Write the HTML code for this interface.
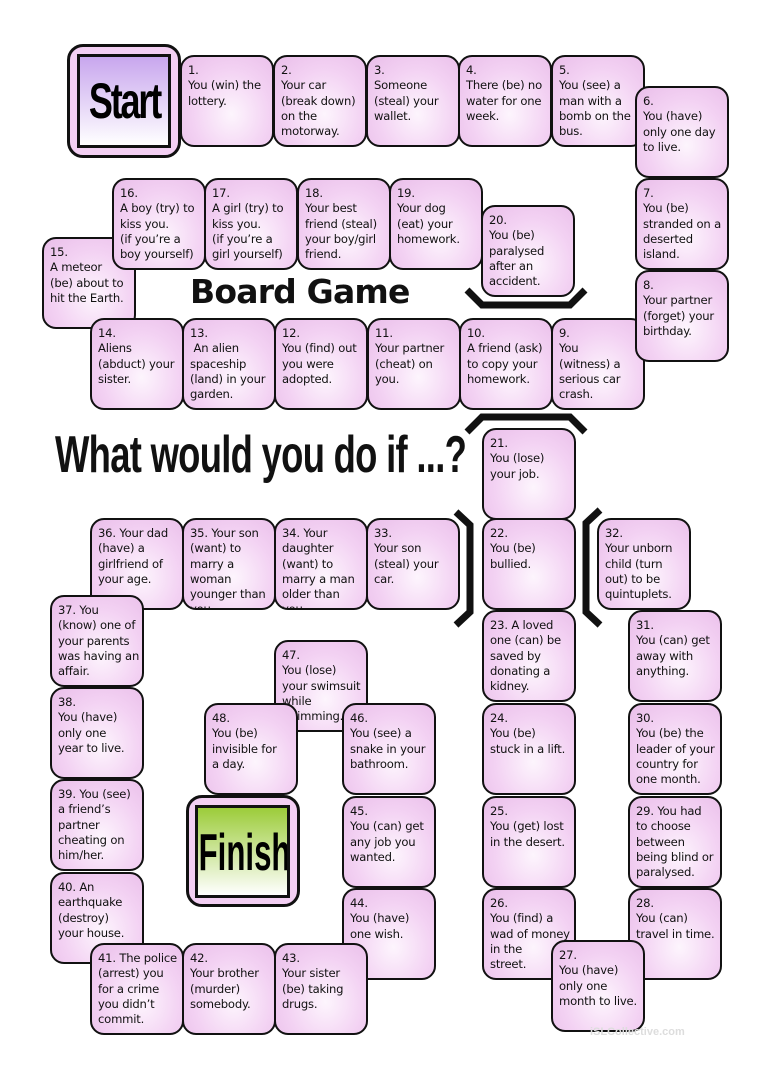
<!DOCTYPE html>
<html><head><meta charset="utf-8"><style>
body{margin:0;width:763px;height:1079px;background:#fff;position:relative;overflow:hidden;font-family:"DejaVu Sans","Liberation Sans",sans-serif;}
.b{position:absolute;border:2.5px solid #111;border-radius:14px;background:radial-gradient(ellipse at 55% 65%,#fdf5fd 0%,#f3d2f3 55%,#e9bde9 100%);font-size:11.6px;line-height:15.3px;color:#111;padding:6px 0 0 6px;box-sizing:content-box;width:84px;height:82px;letter-spacing:-0.2px;white-space:nowrap;overflow:hidden}
.big{position:absolute;border:3px solid #111;border-radius:16px;background:#f3cff3}
.in{position:absolute;border:3px solid #111}
svg{position:absolute;left:0;top:0}
</style></head><body>
<div class="big" style="left:67px;top:44px;width:108px;height:108px"></div>
<div class="in" style="left:77px;top:54px;width:88px;height:88px;background:linear-gradient(#c8a6ee,#fff);font:bold 50px 'Liberation Sans Narrow','Liberation Sans',sans-serif;text-align:center;line-height:88px;letter-spacing:-3px;overflow:hidden"><span style="display:inline-block;transform:scaleX(0.72);margin-left:-20px;margin-right:-20px">Start</span></div>

<div class="b" style="left:180px;top:55px">1.<br>You (win) the<br>lottery.</div>
<div class="b" style="left:273px;top:55px">2.<br>Your car<br>(break down)<br>on the<br>motorway.</div>
<div class="b" style="left:366px;top:55px">3.<br>Someone<br>(steal) your<br>wallet.</div>
<div class="b" style="left:458px;top:55px">4.<br>There (be) no<br>water for one<br>week.</div>
<div class="b" style="left:551px;top:55px">5.<br>You (see) a<br>man with a<br>bomb on the<br>bus.</div>
<div class="b" style="left:635px;top:86px">6.<br>You (have)<br>only one day<br>to live.</div>
<div class="b" style="left:635px;top:178px">7.<br>You (be)<br>stranded on a<br>deserted<br>island.</div>

<div class="b" style="left:42px;top:237px">15.<br>A meteor<br>(be) about to<br>hit the Earth.</div>
<div class="b" style="left:112px;top:178px">16.<br>A boy (try) to<br>kiss you.<br>(if you’re a<br>boy yourself)</div>
<div class="b" style="left:204px;top:178px">17.<br>A girl (try) to<br>kiss you.<br>(if you’re a<br>girl yourself)</div>
<div class="b" style="left:297px;top:178px">18.<br>Your best<br>friend (steal)<br>your boy/girl<br>friend.</div>
<div class="b" style="left:389px;top:178px">19.<br>Your dog<br>(eat) your<br>homework.</div>
<div class="b" style="left:481px;top:205px">20.<br>You (be)<br>paralysed<br>after an<br>accident.</div>

<div style="position:absolute;left:190px;top:272px;font:bold 33px 'DejaVu Sans',sans-serif;color:#111;letter-spacing:-0.8px">Board Game</div>

<div class="b" style="left:90px;top:318px">14.<br>Aliens<br>(abduct) your<br>sister.</div>
<div class="b" style="left:182px;top:318px">13.<br>&nbsp;An alien<br>spaceship<br>(land) in your<br>garden.</div>
<div class="b" style="left:274px;top:318px">12.<br>You (find) out<br>you were<br>adopted.</div>
<div class="b" style="left:367px;top:318px">11.<br>Your partner<br>(cheat) on<br>you.</div>
<div class="b" style="left:459px;top:318px">10.<br>A friend (ask)<br>to copy your<br>homework.</div>
<div class="b" style="left:551px;top:318px">9.<br>You<br>(witness) a<br>serious car<br>crash.</div>
<div class="b" style="left:635px;top:270px">8.<br>Your partner<br>(forget) your<br>birthday.</div>

<div style="position:absolute;left:55px;top:425px;font:bold 52px 'Liberation Sans Narrow','Liberation Sans',sans-serif;color:#111;white-space:nowrap;transform:scaleX(0.7);transform-origin:left top;letter-spacing:-1px">What would you do if ...?</div>

<svg width="763" height="1079">
<g fill="none" stroke="#111" stroke-width="7">
<polyline points="467,290 482,305 570,305 585,290"/>
<polyline points="467,432 482,417 570,417 585,432"/>
<polyline points="456,512 470,525 470,612 456,625"/>
<polyline points="600,510 586,523 586,612 600,625"/>
</g>
</svg>

<div class="b" style="left:482px;top:428px">21.<br>You (lose)<br>your job.</div>
<div class="b" style="left:482px;top:518px">22.<br>You (be)<br>bullied.</div>
<div class="b" style="left:597px;top:518px">32.<br>Your unborn<br>child (turn<br>out) to be<br>quintuplets.</div>
<div class="b" style="left:366px;top:518px">33.<br>Your son<br>(steal) your<br>car.</div>
<div class="b" style="left:274px;top:518px">34. Your<br>daughter<br>(want) to<br>marry a man<br>older than<br>you.</div>
<div class="b" style="left:182px;top:518px">35. Your son<br>(want) to<br>marry a<br>woman<br>younger than<br>you.</div>
<div class="b" style="left:90px;top:518px">36. Your dad<br>(have) a<br>girlfriend of<br>your age.</div>
<div class="b" style="left:50px;top:595px">37. You<br>(know) one of<br>your parents<br>was having an<br>affair.</div>
<div class="b" style="left:482px;top:610px">23. A loved<br>one (can) be<br>saved by<br>donating a<br>kidney.</div>
<div class="b" style="left:628px;top:610px">31.<br>You (can) get<br>away with<br>anything.</div>
<div class="b" style="left:274px;top:640px">47.<br>You (lose)<br>your swimsuit<br>while<br>swimming.</div>
<div class="b" style="left:50px;top:687px">38.<br>You (have)<br>only one<br>year to live.</div>
<div class="b" style="left:204px;top:703px">48.<br>You (be)<br>invisible for<br>a day.</div>
<div class="b" style="left:342px;top:703px">46.<br>You (see) a<br>snake in your<br>bathroom.</div>
<div class="b" style="left:482px;top:703px">24.<br>You (be)<br>stuck in a lift.</div>
<div class="b" style="left:628px;top:703px">30.<br>You (be) the<br>leader of your<br>country for<br>one month.</div>
<div class="b" style="left:50px;top:779px">39. You (see)<br>a friend’s<br>partner<br>cheating on<br>him/her.</div>

<div class="big" style="left:186px;top:795px;width:108px;height:106px"></div>
<div class="in" style="left:195px;top:805px;width:89px;height:87px;background:linear-gradient(#9ccc3a,#fff);overflow:hidden;text-align:center;font:bold 52px 'Liberation Sans Narrow','Liberation Sans',sans-serif"><span style="display:inline-block;transform:scaleX(0.6);margin:0 -30px;line-height:90px">Finish</span></div>

<div class="b" style="left:342px;top:796px">45.<br>You (can) get<br>any job you<br>wanted.</div>
<div class="b" style="left:482px;top:796px">25.<br>You (get) lost<br>in the desert.</div>
<div class="b" style="left:628px;top:796px">29. You had<br>to choose<br>between<br>being blind or<br>paralysed.</div>
<div class="b" style="left:50px;top:872px">40. An<br>earthquake<br>(destroy)<br>your house.</div>
<div class="b" style="left:342px;top:888px">44.<br>You (have)<br>one wish.</div>
<div class="b" style="left:482px;top:888px">26.<br>You (find) a<br>wad of money<br>in the<br>street.</div>
<div class="b" style="left:628px;top:888px">28.<br>You (can)<br>travel in time.</div>
<div class="b" style="left:551px;top:940px">27.<br>You (have)<br>only one<br>month to live.</div>
<div class="b" style="left:90px;top:943px">41. The police<br>(arrest) you<br>for a crime<br>you didn’t<br>commit.</div>
<div class="b" style="left:182px;top:943px">42.<br>Your brother<br>(murder)<br>somebody.</div>
<div class="b" style="left:274px;top:943px">43.<br>Your sister<br>(be) taking<br>drugs.</div>
<div style="position:absolute;left:590px;top:1026px;font:bold 11px 'Liberation Sans',sans-serif;color:#ddd">iSLCollective.com</div>
</body></html>
